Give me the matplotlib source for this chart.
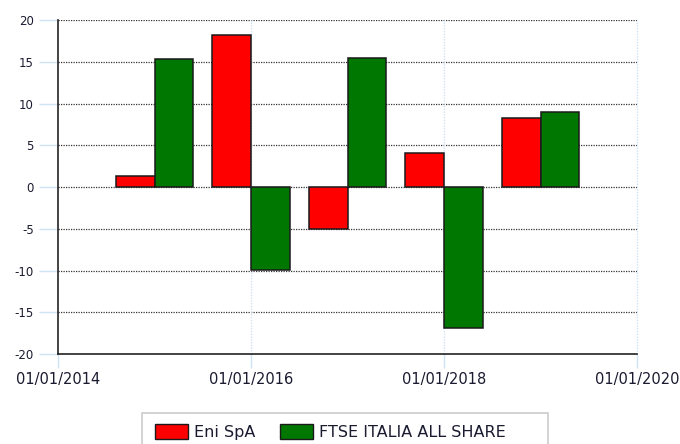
import matplotlib
matplotlib.use("Agg")
import matplotlib.pyplot as plt
from matplotlib.patches import Patch, Rectangle
from matplotlib.ticker import FixedLocator, FuncFormatter

plt.rcParams["axes.unicode_minus"] = False

years = [2015, 2016, 2017, 2018, 2019]
eni = [1.3, 18.2, -5.0, 4.1, 8.3]
ftse = [15.3, -9.9, 15.4, -16.9, 9.0]
series_names = ["Eni SpA", "FTSE ITALIA ALL SHARE"]
colors = ["#ff0000", "#007700"]
x_ticks = [2014, 2016, 2018, 2020]
y_ticks = [-20, -15, -10, -5, 0, 5, 10, 15, 20]

fig = plt.figure(figsize=(6.8, 4.44), dpi=100)
ax = fig.add_axes([58/680, 1-354/444, (637-58)/680, (354-20)/444])

w = 0.4
ax.bar([y - w/2 for y in years], eni, width=w, color=colors[0],
       edgecolor="#1a1a1a", linewidth=1.1, zorder=3)
ax.bar([y + w/2 for y in years], ftse, width=w, color=colors[1],
       edgecolor="#1a1a1a", linewidth=1.1, zorder=3)

ax.set_xlim(2014, 2020)
ax.set_ylim(-20, 20)
ax.xaxis.set_major_locator(FixedLocator(x_ticks))
ax.xaxis.set_major_formatter(FuncFormatter(lambda v, p: f"01/01/{int(round(v))}"))
ax.yaxis.set_major_locator(FixedLocator(y_ticks))

# horizontal dotted grid
for yv in y_ticks:
    if yv > -20:
        ax.axhline(yv, color="#333333", linestyle=(0, (1, 1)), linewidth=0.9, zorder=1)
# vertical light blue dotted grid
for xv in x_ticks[1:]:
    ax.axvline(xv, color="#cfe3f5", linestyle=(0, (1, 1)), linewidth=1.0, zorder=1,
               clip_on=False)

for s in ["top", "right"]:
    ax.spines[s].set_visible(False)
ax.spines["left"].set_color("#222222")
ax.spines["bottom"].set_color("#222222")
ax.spines["left"].set_linewidth(1.2)
ax.spines["bottom"].set_linewidth(1.2)

ax.tick_params(axis="y", length=14, width=1.0, color="#cfe3f5", labelsize=8.5,
               labelcolor="#1a1a30", pad=3.5)
ax.tick_params(axis="x", length=10, width=1.0, color="#cfe3f5", labelsize=10.5,
               labelcolor="#1a1a30", pad=3)

# legend frame
fig.patches.append(Rectangle((142/680, -0.02), (548-142)/680, 0.02 + 1-413/444,
                             transform=fig.transFigure, facecolor="white",
                             edgecolor="#cccccc", linewidth=1.2, zorder=0))

handles = [Patch(facecolor=colors[0], edgecolor="#1a1a1a", linewidth=1.0),
           Patch(facecolor=colors[1], edgecolor="#1a1a1a", linewidth=1.0)]
leg = fig.legend(handles, series_names, loc="upper left",
                 bbox_to_anchor=(155/680, 1-424/444), ncol=2, frameon=False,
                 fontsize=11.5, handlelength=2.06, handleheight=1.05,
                 columnspacing=1.5, handletextpad=0.4, borderpad=0.0,
                 borderaxespad=0.0)
for t in leg.get_texts():
    t.set_color("#1a1a30")

fig.savefig("out.png", dpi=100)
